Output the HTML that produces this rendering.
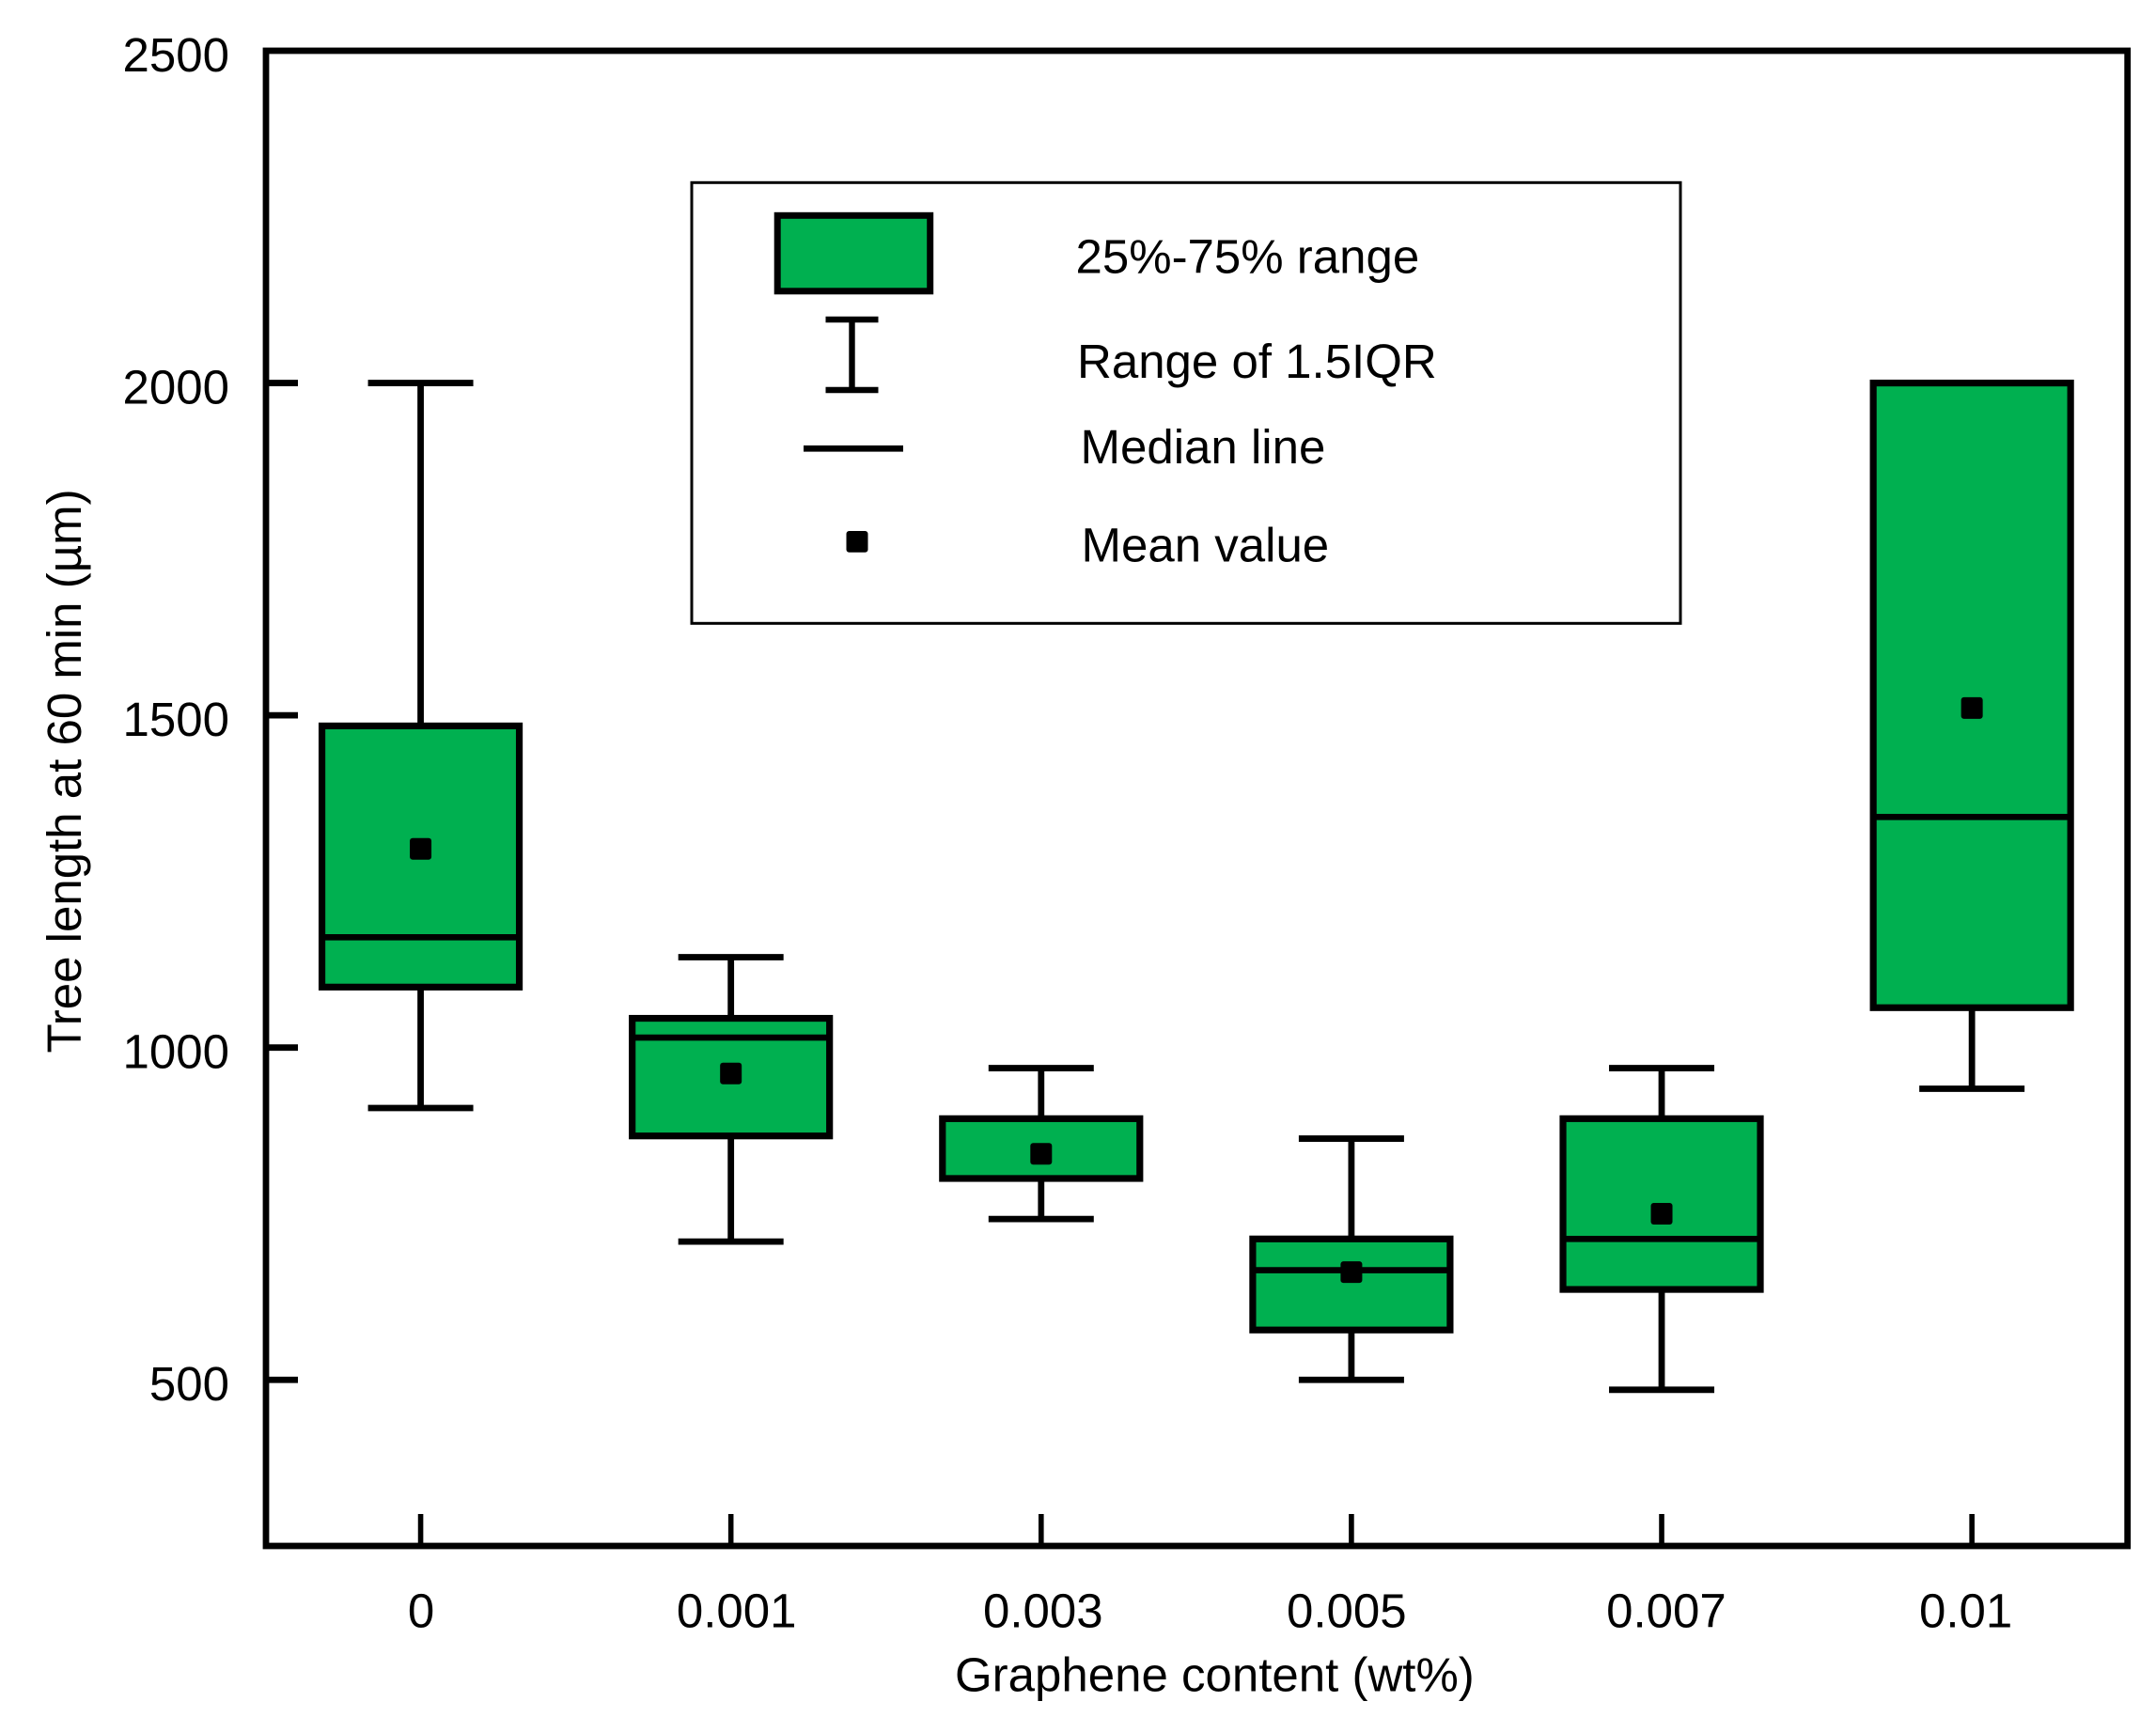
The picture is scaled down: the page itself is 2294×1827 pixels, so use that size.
<!DOCTYPE html>
<html lang="en">
<head>
<meta charset="utf-8">
<title>Tree length at 60 min vs graphene content</title>
<style>
  html, body { margin: 0; padding: 0; background: #ffffff; }
  svg { display: block; }
  text { font-family: "Liberation Sans", Arial, sans-serif; font-size: 51px; fill: #000000; }
</style>
</head>
<body>
<svg id="chart" xmlns="http://www.w3.org/2000/svg" width="2294" height="1827" viewBox="0 0 2294 1827">
  <rect x="0" y="0" width="2294" height="1827" fill="#ffffff"/>
  <g id="boxes"></g>
  <g id="y-ticks"></g>
  <g id="x-ticks"></g>
  <rect x="283" y="54" width="1980.7" height="1591" fill="none" stroke="#000" stroke-width="6.8"/>

  <text transform="translate(86 1120.5) rotate(-90)">Tree length at 60 min (µm)</text>
  <text x="1016" y="1799.5">Graphene content (wt%)</text>

  <g>
    <rect x="736" y="194.3" width="1052" height="469" fill="#fff" stroke="#000" stroke-width="3"/>
    <rect x="827.2" y="229.3" width="162.5" height="80.5" fill="#00b050" stroke="#000" stroke-width="7"/>
    <text x="1144.5" y="290.5">25%-75% range</text>
    <g stroke="#000" stroke-width="6.4">
      <line x1="906.5" y1="340" x2="906.5" y2="415"/>
      <line x1="878.5" y1="340" x2="934.5" y2="340"/>
      <line x1="878.5" y1="415" x2="934.5" y2="415"/>
    </g>
    <text x="1146" y="402">Range of 1.5IQR</text>
    <line x1="855" y1="477.3" x2="961" y2="477.3" stroke="#000" stroke-width="6.6"/>
    <text x="1149.5" y="493">Median line</text>
    <rect x="900.5" y="565" width="23" height="22.7" rx="3" fill="#000"/>
    <text x="1150.5" y="597.5">Mean value</text>
  </g>
</svg>

<script>
const categories = ['0', '0.001', '0.003', '0.005', '0.007', '0.01'];
const q3Values = [1484, 1044, 893, 712, 893, 2000];
const q1Values = [1091, 867, 803, 575, 636, 1060];
const medianValues = [1166, 1015, 893, 665, 712, 1347];
const meanValues = [1299, 961, 840, 662, 750, 1511];
const whiskerHighValues = [2000, 1136, 969, 863, 969, 2000];
const whiskerLowValues = [909, 708, 742, 500, 485, 938];
const yTickValues = [500, 1000, 1500, 2000];
const yLabelValues = [500, 1000, 1500, 2000, 2500];

const SVG_NS = 'http://www.w3.org/2000/svg';
const plot = { left: 283, right: 2263.7, top: 54, bottom: 1645 };
const xDomain = [-0.5, 5.5];
const yDomain = [250, 2500];

function xScale(i) {
  return plot.left + (i - xDomain[0]) / (xDomain[1] - xDomain[0]) * (plot.right - plot.left);
}
function yScale(v) {
  return plot.bottom - (v - yDomain[0]) / (yDomain[1] - yDomain[0]) * (plot.bottom - plot.top);
}
function make(tag, attrs, parent) {
  const node = document.createElementNS(SVG_NS, tag);
  for (const key in attrs) node.setAttribute(key, attrs[key]);
  parent.appendChild(node);
  return node;
}

const boxHalfWidth = 105;
const capHalfWidth = 56;
const meanSize = 23;
const boxesGroup = document.getElementById('boxes');
const yTicksGroup = document.getElementById('y-ticks');
const xTicksGroup = document.getElementById('x-ticks');
const chartSvg = document.getElementById('chart');

categories.forEach(function (cat, i) {
  const cx = xScale(i) - 0.5;
  const group = make('g', {}, boxesGroup);
  
  

  let el = make('line', { x1: cx, x2: cx, y1: yScale(whiskerHighValues[i]), y2: yScale(whiskerLowValues[i]), stroke: '#000', 'stroke-width': 6.8 }, group);
  
  

  if (whiskerHighValues[i] !== q3Values[i]) {
    el = make('line', { x1: cx - capHalfWidth, x2: cx + capHalfWidth, y1: yScale(whiskerHighValues[i]), y2: yScale(whiskerHighValues[i]), stroke: '#000', 'stroke-width': 6.8 }, group);
    
    
  }

  el = make('line', { x1: cx - capHalfWidth, x2: cx + capHalfWidth, y1: yScale(whiskerLowValues[i]), y2: yScale(whiskerLowValues[i]), stroke: '#000', 'stroke-width': 6.8 }, group);
  
  

  el = make('rect', { x: cx - boxHalfWidth, y: yScale(q3Values[i]), width: boxHalfWidth * 2, height: yScale(q1Values[i]) - yScale(q3Values[i]), fill: '#00b050', stroke: '#000', 'stroke-width': 7.2 }, group);
  
  

  el = make('line', { x1: cx - boxHalfWidth, x2: cx + boxHalfWidth, y1: yScale(medianValues[i]), y2: yScale(medianValues[i]), stroke: '#000', 'stroke-width': 6.6 }, group);
  
  

  el = make('rect', { x: cx - meanSize / 2, y: yScale(meanValues[i]) - meanSize / 2, width: meanSize, height: meanSize, rx: 3, fill: '#000' }, group);
  
  

  el = make('line', { x1: cx, x2: cx, y1: plot.bottom, y2: plot.bottom - 34, stroke: '#000', 'stroke-width': 5.6 }, xTicksGroup);
  
  
});

yTickValues.forEach(function (v) {
  const el = make('line', { x1: plot.left, x2: plot.left + 34, y1: yScale(v), y2: yScale(v), stroke: '#000', 'stroke-width': 6.8 }, yTicksGroup);
  
  
});

yLabelValues.forEach(function (v) {
  const el = make('text', { x: 244, y: yScale(v) + 22, 'text-anchor': 'end' }, chartSvg);
  el.textContent = String(v);
  
  
});

const labelNudge = [0, 5.5, 1.5, -5.6, 4.4, -7];
categories.forEach(function (cat, i) {
  const el = make('text', { x: xScale(i) + labelNudge[i], y: 1731.5, 'text-anchor': 'middle' }, chartSvg);
  el.textContent = cat;
  
  
});
</script>
</body>
</html>
